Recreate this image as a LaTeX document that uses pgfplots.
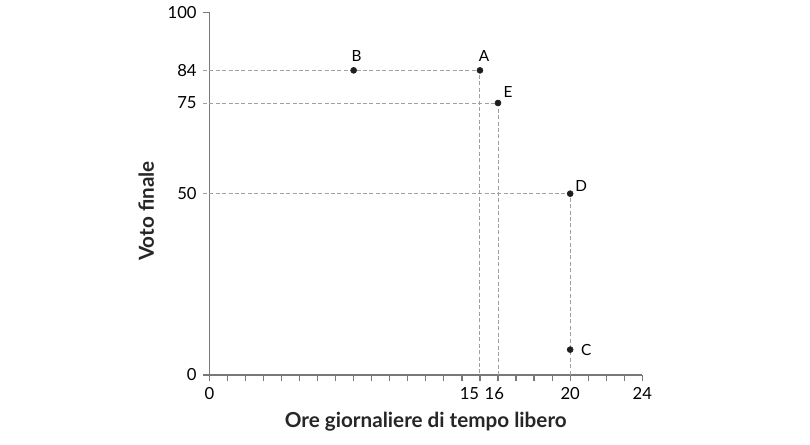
\documentclass[border=0pt]{standalone}
\usepackage{pgfplots}
\pgfplotsset{compat=1.18}
\usepackage{fontspec}
\setmainfont{Lato}

\definecolor{axisgray}{RGB}{120,120,120}
\definecolor{dashgray}{RGB}{160,160,160}
\definecolor{dotblack}{RGB}{30,30,30}

\begin{document}
\begin{tikzpicture}
\path[use as bounding box] (0pt,0pt) rectangle (607.5pt,333pt);
\begin{axis}[
  at={(157pt,51.75pt)}, anchor=south west,
  scale only axis,
  width=324.75pt, height=272pt,
  xmin=0, xmax=24, ymin=0, ymax=100,
  axis x line=bottom, axis y line=left,
  axis line style={-, axisgray, line width=0.9pt},
  tick align=outside,
  xtick={0,15,16,20,24},
  xticklabels={0,{\hbox to 0pt{\hss 15\kern0.6pt}},{\hbox to 0pt{\hss 16\kern-4.5pt}},20,24},
  minor xtick={1,...,23},
  ytick={0,100},
  extra y ticks={50,75,84},
  extra y tick style={major tick length=0pt, yticklabel style={xshift=-4.5pt}},
  major tick length=4.5pt, minor tick length=4.5pt,
  tick style={axisgray, line width=0.9pt},
  tick label style={font=\fontsize{12.5}{15}\selectfont, text=black},
  xticklabel style={yshift=-1pt},
  yticklabel style={xshift=-1.5pt},
  /pgf/number format/assume math mode=true,
  xlabel={Ore giornaliere di tempo libero},
  ylabel={Voto finale},
  label style={font=\fontsize{15.5}{17}\selectfont\bfseries, text=black!85},
  xlabel style={at={(axis description cs:0.5,-0.1296)}, anchor=center},
  ylabel style={at={(axis description cs:-0.1455,0.452)}, anchor=center},
  clip=false,
]
\addplot[dashgray, dash pattern=on 3pt off 1.8pt, line width=0.7pt] coordinates {(-0.35,84) (15,84) (15,0)};
\addplot[dashgray, dash pattern=on 3pt off 1.8pt, line width=0.7pt] coordinates {(-0.35,75) (16,75) (16,0)};
\addplot[dashgray, dash pattern=on 3pt off 1.8pt, line width=0.7pt] coordinates {(-0.35,50) (20,50) (20,0)};
\addplot[only marks, mark=*, mark size=2.25pt, dotblack,
  nodes near coords, point meta=explicit symbolic,
  visualization depends on={\thisrow{dx} \as \dx},
  visualization depends on={\thisrow{dy} \as \dy},
  every node near coord/.append style={font=\fontsize{11.5}{13}\selectfont,
    text=black, anchor=center, xshift=\dx pt, yshift=\dy pt}]
  table[meta=label] {
x  y  label dx   dy
15 84 A     3    10.5
8  84 B     2.25 10.5
20 7  C     12   0
20 50 D     8.25 6
16 75 E     7.5  8.25
};
\end{axis}
\end{tikzpicture}
\end{document}
